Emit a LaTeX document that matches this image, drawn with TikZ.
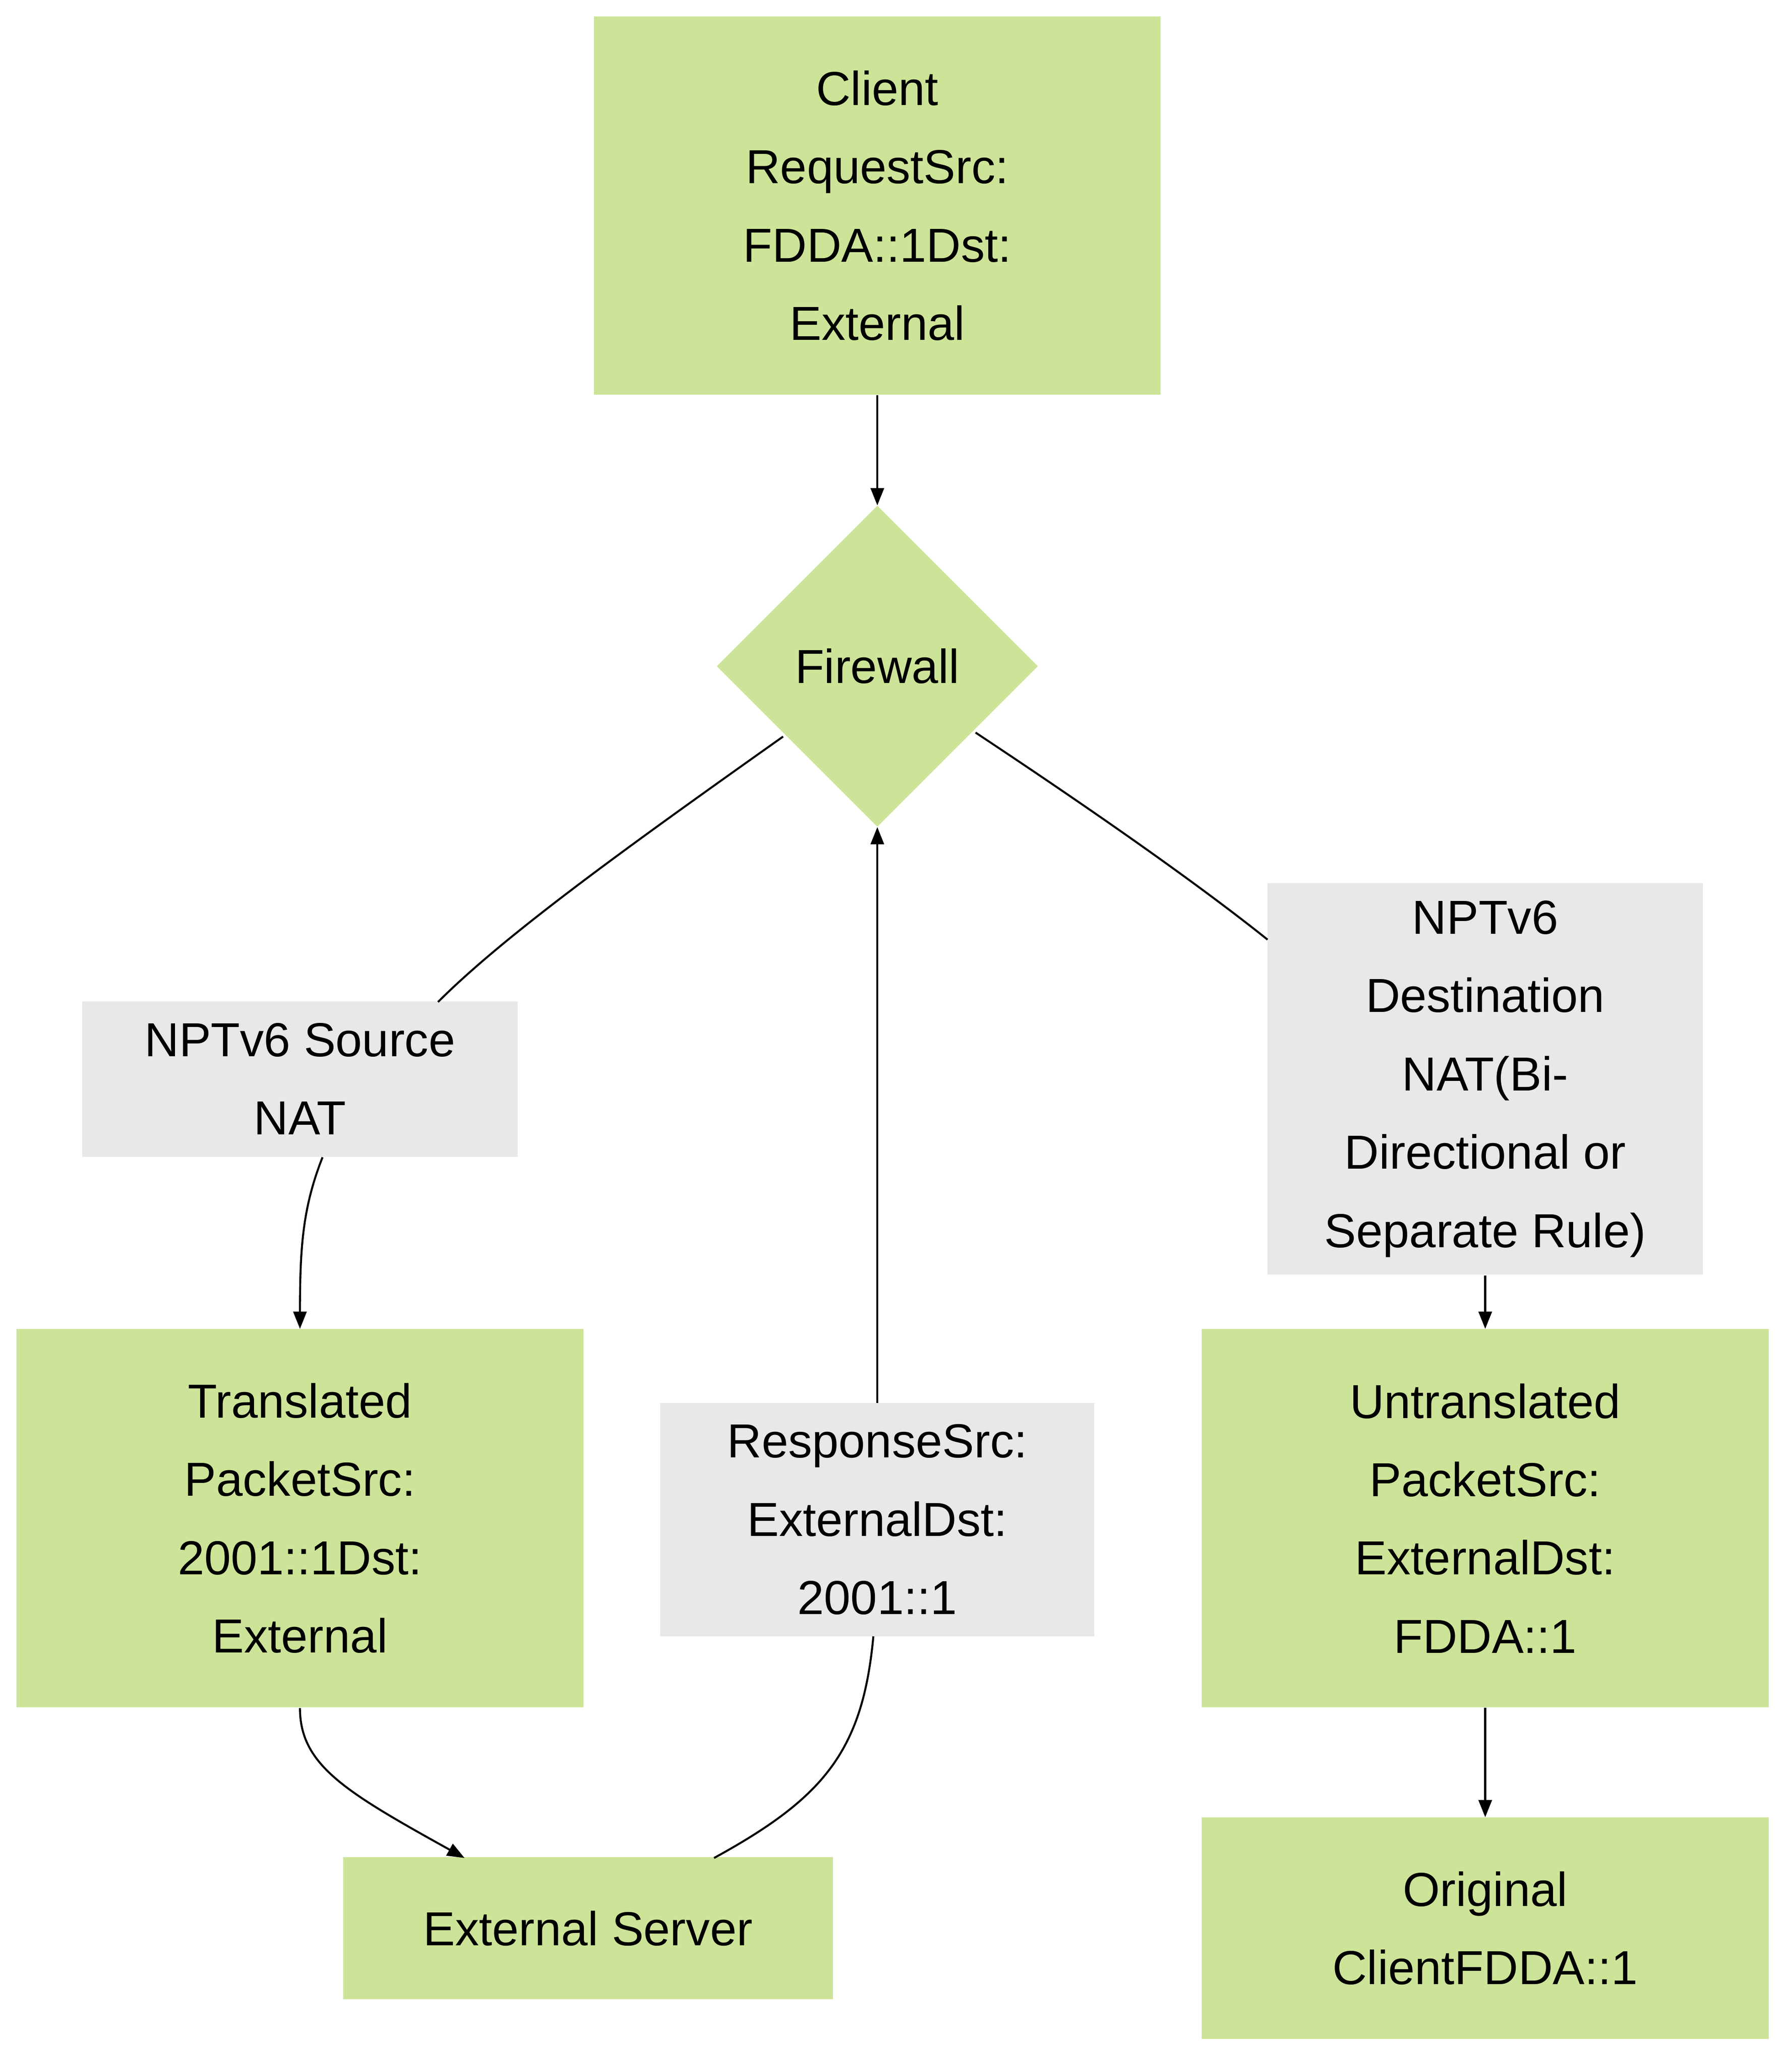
\documentclass[tikz,border=0pt]{standalone}
\usepackage{fontspec}
\setmainfont{Liberation Sans}
\usetikzlibrary{shapes.geometric,arrows.meta}
\definecolor{gn}{HTML}{CDE498}
\definecolor{gy}{HTML}{E8E8E8}
\begin{document}
\begin{tikzpicture}[x=1pt,y=-1pt,
  box/.style={rectangle,draw=none,fill=#1,align=center,inner sep=0pt,font=\fontsize{36}{59}\selectfont},
  ln/.style={draw=black,line width=1.5pt},
  ar/.style={ln,-{Triangle[length=13pt,width=10pt]}}]
\useasboundingbox (0,0) rectangle (1350,1556);
\node[box=gn,minimum width=427pt,minimum height=285pt] (client) at (661,155) {Client\\RequestSrc:\\FDDA::1Dst:\\External};
\node[diamond,fill=gn,minimum width=242pt,minimum height=242pt,inner sep=0pt,font=\fontsize{36}{59}\selectfont] (fw) at (661,502) {Firewall};
\node[box=gy,minimum width=328pt,minimum height=117pt] (src) at (226,813) {NPTv6 Source\\NAT};
\node[box=gy,minimum width=328pt,minimum height=295pt] (dst) at (1119,813) {NPTv6\\Destination\\NAT(Bi-\\Directional or\\Separate Rule)};
\node[box=gn,minimum width=427pt,minimum height=285pt] (tr) at (226,1144) {Translated\\PacketSrc:\\2001::1Dst:\\External};
\node[box=gy,minimum width=327pt,minimum height=176pt] (resp) at (661,1145) {ResponseSrc:\\ExternalDst:\\2001::1};
\node[box=gn,minimum width=427pt,minimum height=285pt] (un) at (1119,1144) {Untranslated\\PacketSrc:\\ExternalDst:\\FDDA::1};
\node[box=gn,minimum width=369pt,minimum height=107pt] (ext) at (443,1453) {External Server};
\node[box=gn,minimum width=427pt,minimum height=167pt] (orig) at (1119,1453) {Original\\ClientFDDA::1};

\draw[ar] (client.south) -- (fw.north);
\draw[ln] (590,555) .. controls (470,640) and (380,705) .. (330,755);
\draw[ar] (243,872) .. controls (228,910) and (226,940) .. (tr.north);
\draw[ar] (226,1287) .. controls (226,1330) and (260,1350) .. (350,1400);
\draw[ln] (538,1400) .. controls (620,1355) and (650,1320) .. (658,1233);
\draw[ar] (661,1057) -- (fw.south);
\draw[ln] (735,552) .. controls (830,615) and (905,668) .. (955,708);
\draw[ar] (1119,961) -- (un.north);
\draw[ar] (un.south) -- (orig.north);
\end{tikzpicture}
\end{document}
